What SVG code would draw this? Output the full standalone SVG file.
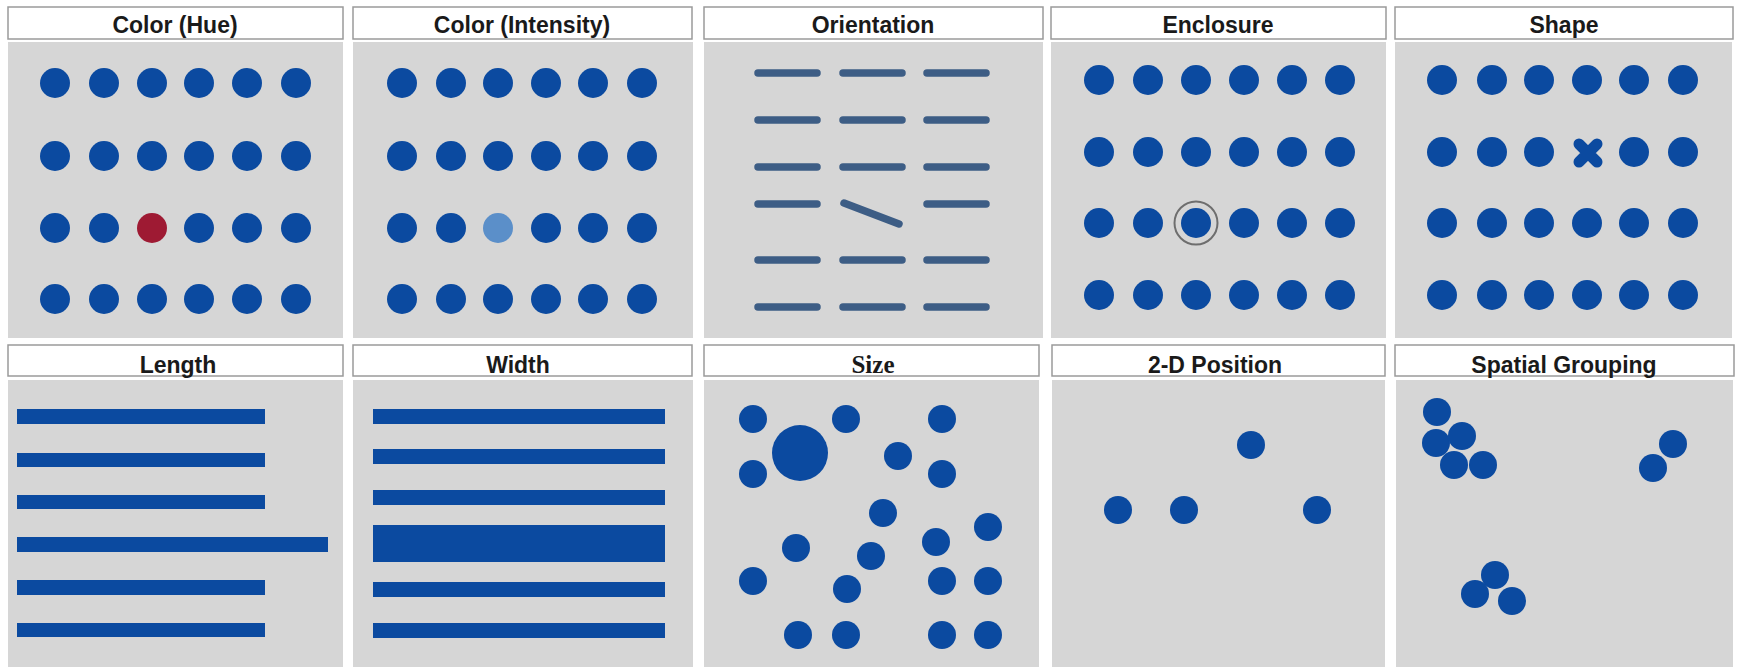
<svg xmlns="http://www.w3.org/2000/svg" width="1737" height="667" viewBox="0 0 1737 667">
<style>
.bg{fill:#d6d6d6}
.tb{fill:#ffffff;stroke:#9a9a9a;stroke-width:1.5}
.tt{font-family:"Liberation Sans",Arial,sans-serif;font-weight:bold;font-size:23px;fill:#1a1a1a;text-anchor:middle}
.ts{font-family:"Liberation Serif","Times New Roman",serif;font-weight:bold;font-size:25px;fill:#1a1a1a;text-anchor:middle}
.d{fill:#0b4aa0}
.ln{stroke:#3d5d85;stroke-width:7.5;stroke-linecap:round;fill:none}
</style>
<defs>
<circle id="dot" r="15" class="d"/>
<circle id="sd" r="14" class="d"/>
</defs>
<rect width="1737" height="667" fill="#ffffff"/>

<g id="hue">
<rect class="bg" x="8" y="42" width="335" height="296"/>
<rect class="tb" x="8" y="7" width="335" height="32"/>
<text class="tt" x="175" y="33">Color (Hue)</text>
<g>
<use href="#dot" x="55" y="83"/><use href="#dot" x="104" y="83"/><use href="#dot" x="152" y="83"/><use href="#dot" x="199" y="83"/><use href="#dot" x="247" y="83"/><use href="#dot" x="296" y="83"/>
<use href="#dot" x="55" y="156"/><use href="#dot" x="104" y="156"/><use href="#dot" x="152" y="156"/><use href="#dot" x="199" y="156"/><use href="#dot" x="247" y="156"/><use href="#dot" x="296" y="156"/>
<use href="#dot" x="55" y="228"/><use href="#dot" x="104" y="228"/><circle cx="152" cy="228" r="15" fill="#9e1a33"/><use href="#dot" x="199" y="228"/><use href="#dot" x="247" y="228"/><use href="#dot" x="296" y="228"/>
<use href="#dot" x="55" y="299"/><use href="#dot" x="104" y="299"/><use href="#dot" x="152" y="299"/><use href="#dot" x="199" y="299"/><use href="#dot" x="247" y="299"/><use href="#dot" x="296" y="299"/>
</g>
</g>

<g id="intensity">
<rect class="bg" x="353" y="42" width="340" height="296"/>
<rect class="tb" x="353" y="7" width="339" height="32"/>
<text class="tt" x="522" y="33">Color (Intensity)</text>
<use href="#dot" x="402" y="83"/><use href="#dot" x="451" y="83"/><use href="#dot" x="498" y="83"/><use href="#dot" x="546" y="83"/><use href="#dot" x="593" y="83"/><use href="#dot" x="642" y="83"/>
<use href="#dot" x="402" y="156"/><use href="#dot" x="451" y="156"/><use href="#dot" x="498" y="156"/><use href="#dot" x="546" y="156"/><use href="#dot" x="593" y="156"/><use href="#dot" x="642" y="156"/>
<use href="#dot" x="402" y="228"/><use href="#dot" x="451" y="228"/><circle cx="498" cy="228" r="15" fill="#5b8fc9"/><use href="#dot" x="546" y="228"/><use href="#dot" x="593" y="228"/><use href="#dot" x="642" y="228"/>
<use href="#dot" x="402" y="299"/><use href="#dot" x="451" y="299"/><use href="#dot" x="498" y="299"/><use href="#dot" x="546" y="299"/><use href="#dot" x="593" y="299"/><use href="#dot" x="642" y="299"/>
</g>

<g id="orientation">
<rect class="bg" x="704" y="42" width="339" height="296"/>
<rect class="tb" x="704" y="7" width="339" height="32"/>
<text class="tt" x="873" y="33">Orientation</text>
<path class="ln" d="M758 73H817M843 73H902M927 73H986M758 120H817M843 120H902M927 120H986M758 167H817M843 167H902M927 167H986M758 204H817M927 204H986M758 260H817M843 260H902M927 260H986M758 307H817M843 307H902M927 307H986"/>
<path class="ln" d="M844 203L899 224"/>
</g>

<g id="enclosure">
<rect class="bg" x="1051" y="42" width="335" height="296"/>
<rect class="tb" x="1051" y="7" width="335" height="32"/>
<text class="tt" x="1218" y="33">Enclosure</text>
<use href="#dot" x="1099" y="80"/><use href="#dot" x="1148" y="80"/><use href="#dot" x="1196" y="80"/><use href="#dot" x="1244" y="80"/><use href="#dot" x="1292" y="80"/><use href="#dot" x="1340" y="80"/>
<use href="#dot" x="1099" y="152"/><use href="#dot" x="1148" y="152"/><use href="#dot" x="1196" y="152"/><use href="#dot" x="1244" y="152"/><use href="#dot" x="1292" y="152"/><use href="#dot" x="1340" y="152"/>
<use href="#dot" x="1099" y="223"/><use href="#dot" x="1148" y="223"/><use href="#dot" x="1196" y="223"/><use href="#dot" x="1244" y="223"/><use href="#dot" x="1292" y="223"/><use href="#dot" x="1340" y="223"/>
<circle cx="1196" cy="223" r="21.5" fill="none" stroke="#6e6e6e" stroke-width="2"/>
<use href="#dot" x="1099" y="295"/><use href="#dot" x="1148" y="295"/><use href="#dot" x="1196" y="295"/><use href="#dot" x="1244" y="295"/><use href="#dot" x="1292" y="295"/><use href="#dot" x="1340" y="295"/>
</g>

<g id="shape">
<rect class="bg" x="1395" y="42" width="337" height="296"/>
<rect class="tb" x="1395" y="7" width="338" height="32"/>
<text class="tt" x="1564" y="33">Shape</text>
<use href="#dot" x="1442" y="80"/><use href="#dot" x="1492" y="80"/><use href="#dot" x="1539" y="80"/><use href="#dot" x="1587" y="80"/><use href="#dot" x="1634" y="80"/><use href="#dot" x="1683" y="80"/>
<use href="#dot" x="1442" y="152"/><use href="#dot" x="1492" y="152"/><use href="#dot" x="1539" y="152"/>
<path d="M1579 144L1597 162M1597 144L1579 162" stroke="#0b4aa0" stroke-width="11" stroke-linecap="round"/>
<use href="#dot" x="1634" y="152"/><use href="#dot" x="1683" y="152"/>
<use href="#dot" x="1442" y="223"/><use href="#dot" x="1492" y="223"/><use href="#dot" x="1539" y="223"/><use href="#dot" x="1587" y="223"/><use href="#dot" x="1634" y="223"/><use href="#dot" x="1683" y="223"/>
<use href="#dot" x="1442" y="295"/><use href="#dot" x="1492" y="295"/><use href="#dot" x="1539" y="295"/><use href="#dot" x="1587" y="295"/><use href="#dot" x="1634" y="295"/><use href="#dot" x="1683" y="295"/>
</g>

<g id="length">
<rect class="bg" x="8" y="380" width="335" height="287"/>
<rect class="tb" x="8" y="345" width="335" height="31"/>
<text class="tt" x="178" y="373">Length</text>
<g class="d">
<rect x="17" y="409" width="248" height="15"/>
<rect x="17" y="453" width="248" height="14"/>
<rect x="17" y="495" width="248" height="14"/>
<rect x="17" y="537" width="311" height="15"/>
<rect x="17" y="580" width="248" height="15"/>
<rect x="17" y="623" width="248" height="14"/>
</g>
</g>

<g id="width">
<rect class="bg" x="353" y="380" width="340" height="287"/>
<rect class="tb" x="353" y="345" width="339" height="31"/>
<text class="tt" x="518" y="373">Width</text>
<g class="d">
<rect x="373" y="409" width="292" height="15"/>
<rect x="373" y="449" width="292" height="15"/>
<rect x="373" y="490" width="292" height="15"/>
<rect x="373" y="525" width="292" height="37"/>
<rect x="373" y="582" width="292" height="15"/>
<rect x="373" y="623" width="292" height="15"/>
</g>
</g>

<g id="size">
<rect class="bg" x="704" y="380" width="335" height="287"/>
<rect class="tb" x="704" y="345" width="335" height="31"/>
<text class="ts" x="873" y="373">Size</text>
<use href="#sd" x="753" y="419"/><use href="#sd" x="846" y="419"/><use href="#sd" x="942" y="419"/>
<circle cx="800" cy="453" r="28" class="d"/>
<use href="#sd" x="898" y="456"/><use href="#sd" x="753" y="474"/><use href="#sd" x="942" y="474"/>
<use href="#sd" x="883" y="513"/><use href="#sd" x="988" y="527"/><use href="#sd" x="936" y="542"/>
<use href="#sd" x="796" y="548"/><use href="#sd" x="871" y="556"/>
<use href="#sd" x="753" y="581"/><use href="#sd" x="942" y="581"/><use href="#sd" x="988" y="581"/><use href="#sd" x="847" y="589"/>
<use href="#sd" x="798" y="635"/><use href="#sd" x="846" y="635"/><use href="#sd" x="942" y="635"/><use href="#sd" x="988" y="635"/>
</g>

<g id="position">
<rect class="bg" x="1052" y="380" width="333" height="287"/>
<rect class="tb" x="1052" y="345" width="333" height="31"/>
<text class="tt" x="1215" y="373">2-D Position</text>
<use href="#sd" x="1251" y="445"/>
<use href="#sd" x="1118" y="510"/><use href="#sd" x="1184" y="510"/><use href="#sd" x="1317" y="510"/>
</g>

<g id="grouping">
<rect class="bg" x="1396" y="380" width="337" height="287"/>
<rect class="tb" x="1395" y="345" width="339" height="31"/>
<text class="tt" x="1564" y="373">Spatial Grouping</text>
<use href="#sd" x="1437" y="412"/><use href="#sd" x="1436" y="443"/><use href="#sd" x="1462" y="436"/>
<use href="#sd" x="1454" y="465"/><use href="#sd" x="1483" y="465"/>
<use href="#sd" x="1673" y="444"/><use href="#sd" x="1653" y="468"/>
<use href="#sd" x="1495" y="575"/><use href="#sd" x="1475" y="594"/><use href="#sd" x="1512" y="601"/>
</g>
</svg>
